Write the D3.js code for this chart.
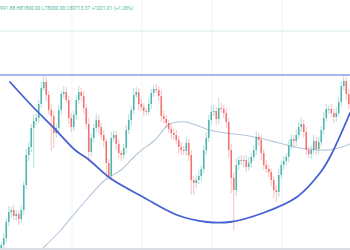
<!DOCTYPE html>
<html>
<head>
<meta charset="utf-8">
<script src="https://cdn.jsdelivr.net/npm/d3@7"></script>
<style>
  html, body { margin: 0; padding: 0; background: #ffffff; }
  #chart { width: 350px; height: 250px; overflow: hidden; }
</style>
</head>
<body>
<div id="chart"></div>
<script>
// closes in thousands of USD, open = previous close
var closes = [
  55.5, 56.2, 57.8, 58.8, 59.0, 58.4, 58.6, 58.1, 59.0, 61.5,
  64.5, 65.3, 67.2, 67.9, 68.2, 69.6, 71.2, 71.8, 70.5, 69.0,
  68.4, 66.7, 67.2, 69.0, 70.6, 70.8, 70.0, 68.2, 67.3, 68.5,
  70.0, 70.8, 70.4, 69.2, 67.6, 64.8, 66.2, 67.2, 68.0, 67.3,
  66.5, 65.9, 63.7, 62.4, 66.2, 66.5, 65.6, 64.7, 64.5, 65.2,
  67.0, 68.0, 69.0, 70.5, 70.8, 69.6, 69.3, 68.9, 68.8, 69.6,
  70.7, 71.1, 71.0, 70.4, 68.4, 68.1, 67.7, 67.1, 66.7, 66.5,
  66.0, 65.3, 65.0, 64.9, 65.7, 64.5, 62.0, 61.7, 62.0, 62.4,
  63.1, 65.0, 66.2, 68.0, 68.8, 68.9, 68.1, 69.2, 69.1, 68.7,
  67.8, 65.0, 62.2, 61.0, 63.5, 64.0, 63.9, 64.0, 63.3, 63.7,
  64.3, 65.0, 66.3, 66.0, 64.7, 63.5, 63.1, 62.8, 62.0, 61.0,
  60.8, 62.5, 63.5, 63.9, 64.3, 65.4, 66.1, 65.9, 66.5, 67.3,
  67.6, 66.8, 65.0, 64.6, 65.0, 65.9, 65.1, 65.8, 67.0, 68.2,
  69.1, 69.1, 68.7, 68.3, 68.7, 69.8, 71.4, 71.9, 70.6, 69.6
];
var firstOpen = 54.8;

var wickUp = [
  0.3, 0.5, 0.4, 0.6, 0.3, 0.5, 0.4, 0.3, 0.5, 0.4,
  0.6, 0.5, 0.4, 0.7, 0.5, 0.4, 0.6, 0.6, 0.5, 0.4,
  0.6, 0.5, 0.4, 0.5, 0.3, 0.6, 0.5, 0.4, 0.5, 0.4,
  0.5, 0.6, 0.4, 0.5, 0.4, 0.6, 0.5, 0.4, 0.6, 0.5,
  0.4, 0.5, 0.3, 0.4, 0.6, 0.5, 0.4, 0.5, 0.3, 0.4,
  0.5, 0.6, 0.4, 0.7, 0.5, 0.4, 0.5, 0.4, 0.3, 0.5,
  0.4, 0.4, 0.5, 0.4, 0.6, 0.5, 0.4, 0.3, 0.5, 0.4,
  0.5, 0.4, 0.5, 0.4, 0.6, 0.4, 0.5, 0.4, 0.5, 0.6,
  0.4, 0.5, 0.6, 0.5, 0.7, 0.6, 0.4, 1.0, 0.5, 0.4,
  0.5, 0.4, 0.6, 0.5, 0.7, 0.4, 0.5, 0.4, 0.5, 0.6,
  0.4, 0.5, 0.6, 0.4, 0.5, 0.4, 0.5, 0.4, 0.3, 0.4,
  0.5, 0.6, 0.4, 0.5, 0.4, 0.6, 0.5, 0.4, 0.6, 0.5,
  0.7, 0.4, 0.5, 0.4, 0.5, 0.6, 0.4, 0.5, 0.4, 0.6,
  0.5, 0.4, 0.5, 0.4, 0.6, 0.5, 0.4, 0.6, 0.4, 0.5
];
var wickDown = [
  0.4, 0.3, 0.5, 0.4, 0.6, 0.4, 0.5, 0.6, 0.4, 0.5,
  0.4, 0.6, 0.5, 4.0, 0.4, 0.5, 0.4, 0.3, 0.6, 0.5,
  3.5, 1.5, 0.5, 0.4, 0.5, 0.4, 0.3, 0.6, 0.5, 0.4,
  0.5, 0.4, 0.5, 0.6, 0.5, 1.0, 0.4, 0.5, 0.4, 0.6,
  0.5, 0.6, 1.5, 0.4, 0.5, 0.4, 0.6, 0.5, 0.6, 0.4,
  0.5, 0.4, 0.5, 0.4, 0.3, 0.6, 0.4, 0.5, 0.4, 0.3,
  0.5, 0.4, 0.3, 0.5, 0.6, 0.4, 0.5, 0.4, 0.6, 0.5,
  0.4, 0.6, 0.5, 0.4, 0.5, 0.6, 1.5, 1.2, 0.5, 0.4,
  0.5, 0.4, 0.5, 0.4, 0.5, 0.4, 0.6, 0.5, 0.4, 0.5,
  0.6, 0.8, 1.5, 4.0, 0.6, 0.5, 0.4, 0.6, 0.5, 0.4,
  0.5, 0.4, 0.5, 0.6, 0.7, 0.5, 0.4, 0.5, 0.6, 0.8,
  1.0, 0.5, 0.4, 0.5, 0.4, 0.5, 0.4, 0.6, 0.5, 0.4,
  0.5, 0.6, 0.5, 0.4, 0.5, 0.4, 0.6, 0.5, 0.4, 0.5,
  0.4, 0.5, 0.4, 0.6, 0.5, 0.4, 0.5, 0.4, 0.6, 0.5
];

// moving average, sampled at bar positions
var maBars   = [16.7, 23.5, 29.5, 34.7, 41.5, 47.9, 54.7, 61.5, 66.7, 70.7, 73.9,
                77.9, 83.1, 89.9, 96.7, 103.1, 111.1, 117.5, 123.1, 131.1, 136.3, 139.5];
var maValues = [55.2, 56.9, 58.7, 60.2, 62.0, 63.0, 64.7, 66.0, 67.5, 67.8, 67.8,
                67.5, 67.0, 66.7, 66.5, 66.2, 65.7, 65.3, 65.1, 65.0, 65.3, 65.6];

// hand drawn cup (bar, price)
var cupBars   = [3.5, 12.7, 20.7, 29.5, 34.7, 43.5, 56.7, 70.3, 82.3, 91.5, 104.7, 118.3, 127.5, 131.5, 139.5];
var cupValues = [71.8, 69.3, 67.3, 65.0, 64.1, 62.2, 60.3, 58.5, 57.8, 57.8, 58.7, 60.3, 62.7, 64.3, 68.7];

var resistance = 72.5;
var priceLine = 76.9;
var gridBars = [28.3, 56.3, 84.3, 112.3];
var legendText = '991.88 H81800.00 L78000.00 C80713.37 +1021.01 (+1.28%)';

function drawChart(divId, width, height) {
    width = width || 350;
    height = height || 250;

    var candles = closes.map(function (c, i) {
        var o = i === 0 ? firstOpen : closes[i - 1];
        return {
            i: i, open: o, close: c,
            high: Math.max(o, c) + wickUp[i],
            low: Math.min(o, c) - wickDown[i]
        };
    });

    var x = d3.scaleLinear().domain([-0.5, closes.length - 0.5]).range([0, width]);
    var y = d3.scaleLinear().domain([55, 80]).range([height, 0]);
    var step = x(1) - x(0);

    var svg = d3.select(divId)
      .append('svg')
      .attr('width', width)
      .attr('height', height);

    // faint grid
    svg.selectAll('.vgrid')
      .data(gridBars)
      .enter()
      .append('line')
      .attr('x1', function (d) { return x(d); })
      .attr('x2', function (d) { return x(d); })
      .attr('y1', 0)
      .attr('y2', height)
      .attr('stroke', '#f1f3f7')
      .attr('stroke-width', 1);

    svg.append('line')
      .attr('x1', 0).attr('x2', width)
      .attr('y1', y(priceLine)).attr('y2', y(priceLine))
      .attr('stroke', '#d6eeea')
      .attr('stroke-width', 1);

    svg.append('text')
      .attr('x', 0)
      .attr('y', 9.5)
      .attr('font-family', 'Roboto, "DejaVu Sans", sans-serif')
      .attr('font-size', 4.6)
      .attr('textLength', 133)
      .attr('fill', '#3fb3a0')
      .text(legendText);

    // moving average
    var maLine = d3.line()
      .x(function (d, i) { return x(maBars[i]); })
      .y(function (d) { return y(d); })
      .curve(d3.curveCatmullRom);

    svg.append('path')
      .attr('d', maLine(maValues))
      .attr('fill', 'none')
      .attr('stroke', '#b4c6dc')
      .attr('stroke-width', 1.1);

    // candles
    var g = svg.selectAll('.candle')
      .data(candles)
      .enter()
      .append('g')
      .attr('class', 'candle');

    var color = function (d) { return d.close >= d.open ? '#26a69a' : '#ef5350'; };

    g.append('line')
      .attr('x1', function (d) { return x(d.i); })
      .attr('x2', function (d) { return x(d.i); })
      .attr('y1', function (d) { return y(d.high); })
      .attr('y2', function (d) { return y(d.low); })
      .attr('stroke', color)
      .attr('stroke-opacity', 0.45)
      .attr('stroke-width', 0.8);

    g.append('rect')
      .attr('x', function (d) { return x(d.i) - step * 0.32; })
      .attr('width', step * 0.64)
      .attr('y', function (d) { return y(Math.max(d.open, d.close)); })
      .attr('height', function (d) { return Math.max(0.8, Math.abs(y(d.open) - y(d.close))); })
      .attr('fill', color)
      .attr('fill-opacity', 0.75);

    // resistance
    svg.append('line')
      .attr('x1', 0).attr('x2', width)
      .attr('y1', y(resistance)).attr('y2', y(resistance))
      .attr('stroke', '#8b9de9')
      .attr('stroke-width', 1.5);

    // cup
    var cupLine = d3.line()
      .x(function (d, i) { return x(cupBars[i]); })
      .y(function (d) { return y(d); })
      .curve(d3.curveCatmullRom);

    svg.append('path')
      .attr('d', cupLine(cupValues))
      .attr('fill', 'none')
      .attr('stroke', '#4661d4')
      .attr('stroke-width', 1.8)
      .attr('stroke-linecap', 'round');

    // time axis border
    svg.append('rect')
      .attr('x', 0).attr('y', height - 2)
      .attr('width', width).attr('height', 2)
      .attr('fill', '#dcdee3');
}

drawChart('#chart', 350, 250);
</script>
</body>
</html>
